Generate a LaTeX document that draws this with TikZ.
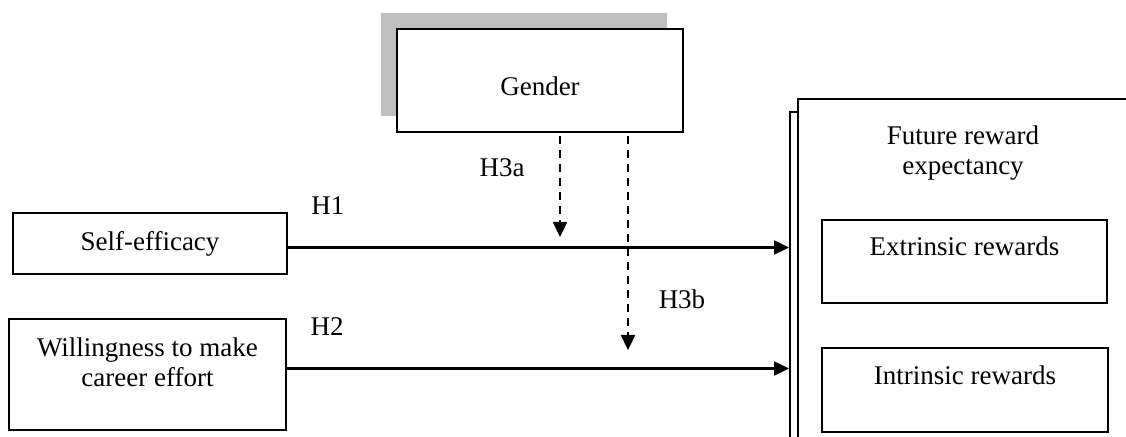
\documentclass[tikz,border=0pt]{standalone}
\usepackage{fontspec}
\setmainfont{Liberation Serif}
\usetikzlibrary{arrows.meta,shadows}

\tikzset{
    varbox/.style={draw=black, line width=0.9pt, fill=white, align=center, inner sep=0pt,
        font=\fontsize{13.5pt}{15pt}\selectfont},
    hypo/.style={font=\fontsize{13.5pt}{15pt}\selectfont, inner sep=0pt},
    path/.style={line width=1.2pt, -{Triangle[length=7.5pt,width=7pt]}},
    moder/.style={line width=1.2pt, dash pattern=on 4pt off 3pt, -{Triangle[length=7.5pt,width=7pt]}}
}

\begin{document}
\begin{tikzpicture}[x=0.5pt,y=-0.5pt]
    \useasboundingbox (0,0) rectangle (1126,437);
    \clip (0,0) rectangle (1126,437);
    % Draw the moderator with its shadow
    \node[varbox, minimum width=143pt, minimum height=51.5pt, text height=15pt,
        drop shadow={shadow xshift=-8pt, shadow yshift=8pt, fill=black!25, opacity=1}]
        (gender) at (540,80.5) {Gender};
    % Draw the predictors
    \node[varbox, minimum width=137pt, minimum height=30.5pt] (self) at (150,243.5) {Self-efficacy};
    \node[varbox, minimum width=138.5pt, minimum height=55.5pt, text depth=12pt]
        (will) at (147.5,374.5) {Willingness to make\\career effort};
    % Draw the outcome block (runs off the page)
    \node[varbox, anchor=north west, minimum width=171.5pt, minimum height=176pt] (back) at (789,111) {};
    \node[varbox, anchor=north west, minimum width=171.5pt, minimum height=176pt] (future) at (797,98) {};
    \node[hypo, align=center] (futuretxt) at (963,153) {Future reward\\expectancy};
    \node[varbox, minimum width=142.5pt, minimum height=41.5pt, text depth=15.5pt]
        (extr) at (964.5,261.5) {Extrinsic rewards};
    \node[varbox, minimum width=143pt, minimum height=42pt, text depth=15pt]
        (intr) at (965,390) {Intrinsic rewards};
    % Draw the direct paths
    \draw[path] ([yshift=-2pt]self.east) -- ([yshift=-2pt]self.east -| back.west) node[hypo, pos=0.08, above=16pt] (h1) {H1};
    \draw[path] ([yshift=3pt]will.east) -- ([yshift=3pt]will.east -| back.west) node[hypo, pos=0.08, above=16pt] (h2) {H2};
    % Draw the moderating paths
    \coordinate (a3) at (560,237);
    \coordinate (b3) at (628,350);
    \draw[moder] ([yshift=-1.5pt]gender.south -| a3) -- (a3);
    \draw[moder] ([yshift=-1.5pt]gender.south -| b3) -- (b3);
    \node[hypo] (h3a) at (502,168) {H3a};
    \node[hypo] (h3b) at (682,299) {H3b};
\end{tikzpicture}
\end{document}
